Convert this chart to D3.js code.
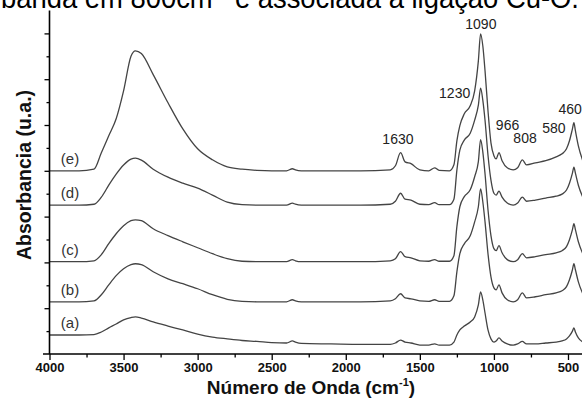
<!DOCTYPE html>
<html>
<head>
<meta charset="utf-8">
<script src="https://cdn.jsdelivr.net/npm/d3@7/dist/d3.min.js"></script>
<style>
html,body{margin:0;padding:0;background:#fff;}
svg{display:block;}
</style>
</head>
<body>
<svg id="chart" width="582" height="403"></svg>
<script>
// ---- data ----
const wavenumbers = [4000,3800,3700,3650,3600,3550,3500,3450,3420,3380,3300,3200,3100,3000,2900,2800,2700,2600,2500,2400,2360,2340,2300,2100,1900,1700,1665,1630,1600,1560,1500,1440,1400,1370,1300,1270,1250,1230,1200,1160,1130,1105,1090,1075,1060,1040,1020,1000,985,966,945,910,870,840,808,780,720,650,580,540,510,490,470,460,450,430,400];
const seriesNames = ["(a)","(b)","(c)","(d)","(e)"];
const seriesOffsets = [0.83, 2.28, 4.03, 6.5, 8.0];
const specA = [0,0,0.02,0.13,0.31,0.48,0.66,0.76,0.79,0.74,0.57,0.39,0.22,0.04,-0.09,-0.17,-0.24,-0.28,-0.33,-0.35,-0.26,-0.31,-0.37,-0.39,-0.41,-0.41,-0.35,-0.22,-0.31,-0.35,-0.44,-0.44,-0.39,-0.44,-0.44,-0.31,0,0.22,0.39,0.57,0.79,1.31,1.88,1.53,0.96,0.22,-0.17,-0.31,-0.26,-0.13,-0.26,-0.39,-0.44,-0.39,-0.28,-0.39,-0.39,-0.35,-0.31,-0.26,-0.17,-0.04,0.17,0.31,0.13,-0.13,-0.31];
const specB = [0,0,0.04,0.31,0.74,1.14,1.44,1.62,1.66,1.62,1.31,1.0,0.79,0.57,0.31,0.11,0.02,0,0,0,0.09,0.04,0,0,0,0.04,0.13,0.35,0.17,0.13,0.04,0.02,0.09,0.02,0.02,0.26,1.31,2.1,2.53,2.88,3.49,4.15,4.93,4.37,3.49,2.1,1.09,0.61,0.52,0.74,0.39,0.09,0,0.09,0.39,0.17,0.22,0.31,0.39,0.48,0.66,0.96,1.4,1.66,1.4,0.87,0.35];
const specC = [0,0,0.04,0.31,0.79,1.22,1.57,1.79,1.83,1.79,1.44,1.14,0.87,0.61,0.35,0.13,0.02,0,0,0,0.09,0.04,0,0,0,0.04,0.13,0.44,0.22,0.17,0.04,0.02,0.09,0.02,0.02,0.26,1.53,2.4,2.84,3.14,3.71,4.37,5.33,4.8,3.84,2.27,1.14,0.57,0.48,0.7,0.39,0.09,0,0.09,0.35,0.17,0.22,0.31,0.39,0.48,0.66,0.96,1.4,1.66,1.4,0.87,0.35];
const specD = [0,0,0.04,0.35,0.87,1.35,1.75,2.01,2.05,1.97,1.57,1.22,0.96,0.74,0.44,0.13,0.02,0,0,0,0.09,0.04,0,0,0,0.04,0.17,0.52,0.26,0.22,0.04,0.02,0.11,0.02,0.02,0.26,1.53,2.4,2.84,3.14,3.71,4.37,5.11,4.59,3.71,2.18,1.09,0.52,0.44,0.61,0.35,0.09,0,0.09,0.35,0.17,0.22,0.31,0.39,0.48,0.66,0.96,1.4,1.66,1.4,0.87,0.35];
const specE = [0,0,0.07,0.79,1.53,2.27,3.49,5.0,5.24,5.12,4.2,2.97,1.83,0.96,0.48,0.17,0.07,0.02,0,0,0.09,0.04,0,0,0,0.04,0.22,0.79,0.39,0.31,0.04,0,0.13,0.02,0,0.26,1.31,1.97,2.49,2.84,3.49,4.8,5.98,5.46,4.37,2.62,1.22,0.66,0.52,0.79,0.44,0.13,0.04,0.13,0.48,0.26,0.35,0.44,0.61,0.74,0.96,1.31,1.83,2.1,1.75,1.09,0.44];
const peakLabels = ["1630","1230","1090","966","808","580","460"];
const peakLabelWn = [1648,1265,1088,908,790,595,486];
const peakLabelAbs = [9.17,11.2,14.2,9.8,9.2,9.65,10.48];
const xTicks = [4000,3500,3000,2500,2000,1500,1000,500];
const topText = "banda em 800cm";

// ---- drawing ----
const svg = d3.select("#chart");
const x = d3.scaleLinear().domain([4000, 400]).range([49.5, 582.8]);
const y = d3.scaleLinear().domain([0, 15]).range([354, 10.5]);

// cut-off caption on top
const cap = svg.append("text")
  .attr("x", 1).attr("y", 8)
  .attr("font-family", "Liberation Sans, Arial, sans-serif")
  .attr("font-size", 30).attr("fill", "#000")
  .attr("textLength", 578).attr("lengthAdjust", "spacingAndGlyphs");
cap.append("tspan").text(topText);
cap.append("tspan").attr("font-size", 18).attr("dy", -11).text("-1");
cap.append("tspan").attr("dy", 11).text(" é associada à ligação Cu-O.");

const allSpecs = [specA, specB, specC, specD, specE];
const line = d3.line()
  .x(d => x(d[0]))
  .y(d => y(d[1]))
  .curve(d3.curveMonotoneX);

const plot = svg.append("g");
allSpecs.forEach((spec, i) => {
  const pts = wavenumbers.map((w, j) => [w, seriesOffsets[i] + spec[j]]);
  plot.append("path")
    .attr("d", line(pts))
    .attr("fill", "none")
    .attr("stroke", "#444")
    .attr("stroke-width", 1.3);
  svg.append("text")
    .attr("x", 70).attr("y", y(seriesOffsets[i]) - 7)
    .attr("text-anchor", "middle")
    .attr("font-family", "Liberation Sans, Arial, sans-serif")
    .attr("font-size", 15).attr("fill", "#333")
    .text(seriesNames[i]);
});

// peak labels
peakLabels.forEach((t, i) => {
  svg.append("text")
    .attr("x", x(peakLabelWn[i])).attr("y", y(peakLabelAbs[i]))
    .attr("text-anchor", "middle")
    .attr("font-family", "Liberation Sans, Arial, sans-serif")
    .attr("font-size", 14).attr("fill", "#222")
    .text(t);
});

// y axis
const yAxis = d3.axisLeft(y)
  .tickValues(d3.range(1, 15))
  .tickSize(4)
  .tickFormat("");
const gy = svg.append("g").attr("transform", `translate(${x(4000)},0)`).call(yAxis);
gy.select(".domain").attr("d", `M0,${y(15)}V${y(0)}`).attr("stroke", "#000").attr("stroke-width", 1.6);
gy.selectAll(".tick line").attr("stroke", "#000").attr("stroke-width", 1.3)
  .attr("x2", d => d % 2 === 0 ? -5 : -3);

// x axis
const xAxis = d3.axisBottom(x)
  .tickValues(d3.range(4000, 399, -250))
  .tickSize(6)
  .tickFormat(d => xTicks.includes(d) ? d : "");
const gx = svg.append("g").attr("transform", `translate(0,${y(0)})`).call(xAxis);
gx.select(".domain").attr("d", `M43,0H582`).attr("stroke", "#000").attr("stroke-width", 1.6);
gx.selectAll(".tick line").attr("stroke", "#000").attr("stroke-width", 1.3)
  .attr("y2", d => xTicks.includes(d) ? 6 : 3.5);
gx.selectAll(".tick text")
  .attr("y", 9)
  .attr("font-family", "Liberation Sans, Arial, sans-serif")
  .attr("font-size", 13).attr("font-weight", "bold").attr("fill", "#111");

// axis titles
const xt = svg.append("text")
  .attr("x", 311).attr("y", 394)
  .attr("text-anchor", "middle")
  .attr("font-family", "Liberation Sans, Arial, sans-serif")
  .attr("font-size", 19).attr("font-weight", "bold").attr("fill", "#111");
xt.append("tspan").text("Número de Onda (cm");
xt.append("tspan").attr("font-size", 11).attr("dy", -8).text("-1");
xt.append("tspan").attr("dy", 8).text(")");

svg.append("text")
  .attr("transform", "translate(31,175) rotate(-90)")
  .attr("text-anchor", "middle")
  .attr("font-family", "Liberation Sans, Arial, sans-serif")
  .attr("font-size", 19.5).attr("font-weight", "bold").attr("fill", "#111")
  .text("Absorbancia (u.a.)");
</script>
</body>
</html>
